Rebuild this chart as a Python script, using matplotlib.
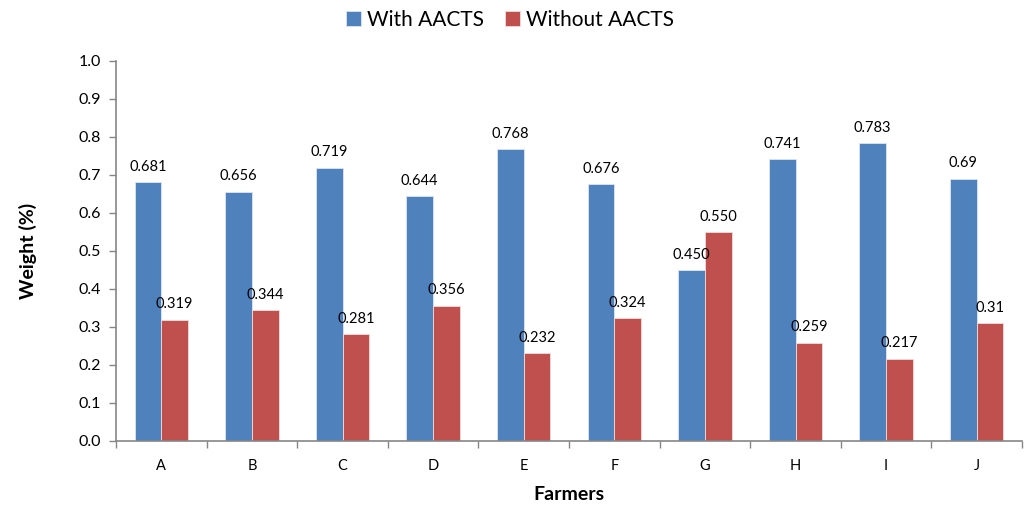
import matplotlib.pyplot as plt
import numpy as np

farmers = ["A", "B", "C", "D", "E", "F", "G", "H", "I", "J"]
with_aacts = [0.681, 0.656, 0.719, 0.644, 0.768, 0.676, 0.450, 0.741, 0.783, 0.69]
without_aacts = [0.319, 0.344, 0.281, 0.356, 0.232, 0.324, 0.550, 0.259, 0.217, 0.31]
with_labels = ["0.681", "0.656", "0.719", "0.644", "0.768", "0.676", "0.450", "0.741", "0.783", "0.69"]
without_labels = ["0.319", "0.344", "0.281", "0.356", "0.232", "0.324", "0.550", "0.259", "0.217", "0.31"]

BLUE = "#4F81BD"
RED = "#C0504D"
GREY = "#868686"

plt.rcParams["font.family"] = ["Lato", "DejaVu Sans"]

fig = plt.figure(figsize=(10.26, 5.08), dpi=100)
ax = fig.add_axes([116 / 1026, 1 - 441 / 508, (1022 - 116) / 1026, 380 / 508])

x = np.arange(len(farmers))
w = 0.295
b1 = ax.bar(x - w / 2, with_aacts, w, color=BLUE, edgecolor="#dce6f2", linewidth=0.6,
            label="With AACTS")
b2 = ax.bar(x + w / 2, without_aacts, w, color=RED, edgecolor="#f2dcdb", linewidth=0.6,
            label="Without AACTS")

for bars, labels in ((b1, with_labels), (b2, without_labels)):
    for rect, txt in zip(bars, labels):
        ax.annotate(txt, (rect.get_x() + rect.get_width() / 2, rect.get_height()),
                    textcoords="offset points", xytext=(0, 6), ha="center",
                    va="bottom", fontsize=10.5, color="#000000")

ax.set_xlim(-0.5, len(farmers) - 0.5)
ax.set_ylim(0, 1.0)
ax.set_yticks(np.arange(0, 1.01, 0.1))
ax.set_yticklabels([f"{v:.1f}" for v in np.arange(0, 1.01, 0.1)], fontsize=11.5)
ax.set_xticks(x)
ax.set_xticklabels(farmers, fontsize=10.5)
ax.tick_params(axis="x", which="major", length=0, pad=13)
ax.set_xticks(np.arange(-0.5, len(farmers), 1), minor=True)
ax.tick_params(axis="x", which="minor", length=5, color=GREY, width=1)
ax.tick_params(axis="y", length=5, color=GREY, width=1, pad=6)

for side in ("top", "right"):
    ax.spines[side].set_visible(False)
for side in ("left", "bottom"):
    ax.spines[side].set_color(GREY)
    ax.spines[side].set_linewidth(1.2)

ax.set_xlabel("Farmers", fontsize=14, fontweight="bold", labelpad=9)
ax.set_ylabel("Weight (%)", fontsize=14, fontweight="bold", labelpad=30)

fig.legend(handles=[b1, b2], loc="center", bbox_to_anchor=(510 / 1026, 1 - 20 / 508),
           ncol=2, frameon=False, fontsize=15, handlelength=0.7, handleheight=0.7,
           handletextpad=0.3, columnspacing=1.0)

fig.savefig("out.png", dpi=100)
